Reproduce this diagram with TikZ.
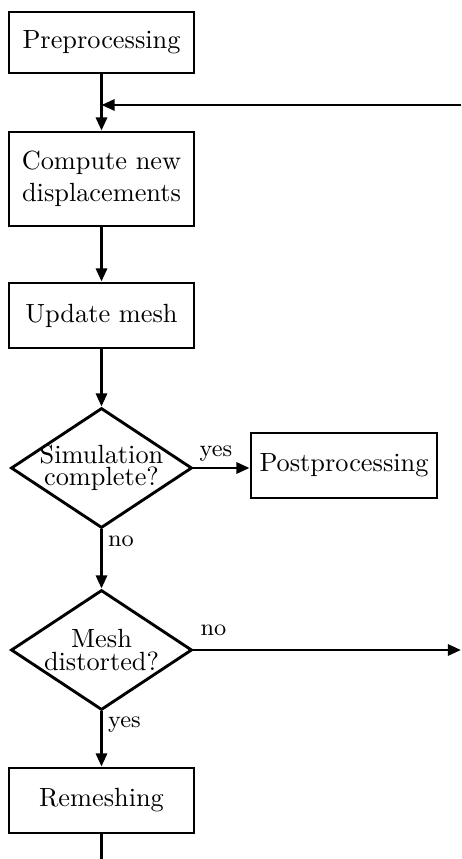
\documentclass[tikz,border=0pt]{standalone}
\usepackage{amsmath}
\usepackage{tikz}
\usetikzlibrary{positioning,shapes.geometric,arrows.meta}

\tikzset{
  stepbox/.style={draw=black, line width=1.1pt, rectangle, align=center, minimum width=70.3pt, inner sep=2pt},
  testbox/.style={draw=black, line width=1.1pt, diamond, shape aspect=1.5, align=center, inner sep=-2pt, minimum width=68.8pt, minimum height=45.6pt},
  flow/.style={line width=1.1pt, -{Triangle[length=5pt,width=4.2pt]}},
  answer/.style={font=\small, inner sep=2pt}
}

\begin{document}
\begin{tikzpicture}[x=0.38pt, y=-0.38pt]
  \useasboundingbox (0,0) rectangle (461,859);

  \node[stepbox, minimum height=23.2pt] (pre) at (101.5,42.5) {Preprocessing};
  \node[stepbox, minimum height=35.7pt] (comp) at (101.5,179) {Compute new\\displacements};
  \node[stepbox, minimum height=24.7pt] (upd) at (101.5,315.5) {Update mesh};
  \node[testbox] (sim) at (101.5,468) {Simulation\\[-3.5pt]complete?};
  \node[stepbox, minimum width=70.7pt, minimum height=24.7pt] (post) at (344,465.5) {Postprocessing};
  \node[testbox] (dist) at (101.5,650) {Mesh\\[-3pt]distorted?};
  \node[stepbox, minimum height=24.7pt] (rem) at (101.5,800.5) {Remeshing};

  \coordinate (back) at (461,105);
  \coordinate (away) at (461,650);
  \coordinate (down) at (101.5,859);

  \draw[flow] (pre) -- (comp);
  \draw[flow] (back) -- (back -| pre);
  \draw[flow] (comp) -- (upd);
  \draw[flow] (upd) -- (sim);
  \draw[flow] (sim.east) -- node[answer, pos=0.4, above] {yes} (sim.east -| post.west);
  \draw[flow] (sim) -- node[answer, pos=0.2, right] {no} (dist);
  \draw[flow] (dist.east) -- node[answer, pos=0.075, above=3pt] {no} (away);
  \draw[flow] (dist) -- node[answer, pos=0.24, right] {yes} (rem);
  \draw[line width=1.1pt] (rem) -- (down);
\end{tikzpicture}
\end{document}
